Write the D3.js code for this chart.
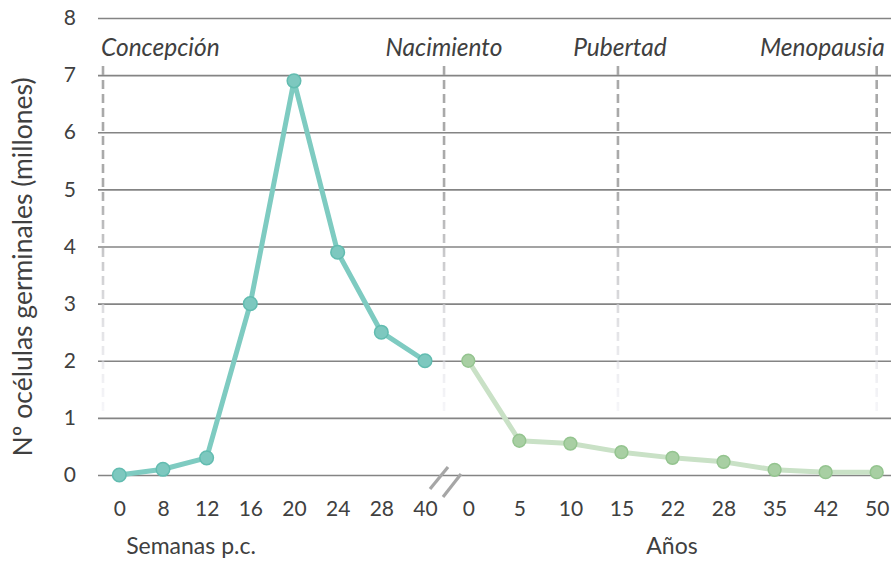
<!DOCTYPE html>
<html><head><meta charset="utf-8">
<script src="https://cdn.jsdelivr.net/npm/d3@7"></script>
<style>
html,body{margin:0;padding:0;background:#fff;}
svg text{font-family:Lato,"Open Sans",sans-serif;fill:#404040;}
</style></head>
<body><svg id="c" width="891" height="561"></svg>
<script>
const weeksLabels = ["0","8","12","16","20","24","28","40"];
const weeksValues = [0, 0.1, 0.3, 3.0, 6.9, 3.9, 2.5, 2.0];
const yearsLabels = ["0","5","10","15","22","28","35","42","50"];
const yearsValues = [2.0, 0.6, 0.55, 0.4, 0.3, 0.23, 0.09, 0.05, 0.05];
const yTicks = [0,1,2,3,4,5,6,7,8];
const milestones = [
  {name:"Concepción", part:"w", idx:0, anchor:"start"},
  {name:"Nacimiento", part:"b", idx:0, anchor:"middle"},
  {name:"Pubertad", part:"y", idx:3, anchor:"middle"},
  {name:"Menopausia", part:"y", idx:8, anchor:"end"}
];

const svg = d3.select("#c");
const y = d3.scaleLinear().domain([0,8]).range([475,18]);
const xw = d3.scalePoint().domain(weeksLabels.map((d,i)=>i)).range([119.3,425]);
const xy = d3.scalePoint().domain(yearsLabels.map((d,i)=>i)).range([468.3,876.7]);

const defs = svg.append("defs");
const g = defs.append("linearGradient").attr("id","fade").attr("gradientUnits","userSpaceOnUse")
  .attr("x1",0).attr("x2",0).attr("y1",66).attr("y2",412);
g.append("stop").attr("offset","0").attr("stop-color","#a8a8a8").attr("stop-opacity",1);
g.append("stop").attr("offset","0.35").attr("stop-color","#aaaaaa").attr("stop-opacity",1);
g.append("stop").attr("offset","1").attr("stop-color","#e8e8f0").attr("stop-opacity",0.4);

// gridlines
const yAxis = d3.axisLeft(y).tickValues(yTicks).tickSize(-(891-98)).tickPadding(22);
const ga = svg.append("g").attr("transform","translate(98,0)").call(yAxis);
ga.select(".domain").remove();
ga.selectAll(".tick line").attr("stroke","#848484").attr("stroke-width",1.6);
ga.selectAll(".tick text").attr("font-size",21).style("fill","#404040");

// milestone dashed lines
function mx(m){
  if(m.part==="w") return xw(m.idx) - 16.3;
  if(m.part==="b") return (xw(weeksLabels.length-1)+xy(0))/2 - 2.6;
  return xy(m.idx) + (m.idx===3 ? -3.5 : 0);
}
milestones.forEach(m=>{
  const x = mx(m);
  svg.append("line").attr("x1",x).attr("x2",x).attr("y1",66).attr("y2",412)
    .attr("stroke","url(#fade)").attr("stroke-width",2.6).attr("stroke-dasharray","9,5");
  let tx = x;
  if(m.anchor==="start") tx = x-2;
  if(m.anchor==="end") tx = x+8;
  if(m.idx===3 && m.part==="y") tx = x+2;
  svg.append("text").attr("x",tx).attr("y",56).attr("text-anchor",m.anchor)
    .attr("font-size",24.5).attr("font-style","italic").text(m.name);
});

// x tick labels
const xaw = d3.axisBottom(xw).tickFormat(i=>weeksLabels[i]).tickSize(0).tickPadding(26);
const gw = svg.append("g").attr("transform","translate(0,475)").call(xaw);
gw.select(".domain").remove();
gw.selectAll("text").attr("font-size",21).style("fill","#404040");
const xay = d3.axisBottom(xy).tickFormat(i=>yearsLabels[i]).tickSize(0).tickPadding(26);
const gy = svg.append("g").attr("transform","translate(0,475)").call(xay);
gy.select(".domain").remove();
gy.selectAll("text").attr("font-size",21).style("fill","#404040");

// axis break
[[430,489,448,467],[443,497,461,474]].forEach(p=>{
  svg.append("line").attr("x1",p[0]).attr("y1",p[1]).attr("x2",p[2]).attr("y2",p[3])
    .attr("stroke","#a6a6a6").attr("stroke-width",3.2);
});

// lines
const lw = d3.line().x((d,i)=>xw(i)).y(d=>y(d));
svg.append("path").datum(weeksValues).attr("d",lw).attr("fill","none")
  .attr("stroke","#7ecbc1").attr("stroke-width",5).attr("stroke-linejoin","round");
svg.selectAll(".pw").data(weeksValues).enter().append("circle")
  .attr("cx",(d,i)=>xw(i)).attr("cy",d=>y(d)).attr("r",6.8)
  .attr("fill","#7dc8bf").attr("stroke","#62bcb0").attr("stroke-width",1.5);

const ly = d3.line().x((d,i)=>xy(i)).y(d=>y(d));
svg.append("path").datum(yearsValues).attr("d",ly).attr("fill","none")
  .attr("stroke","#c9e1c6").attr("stroke-width",5).attr("stroke-linejoin","round");
svg.selectAll(".py").data(yearsValues).enter().append("circle")
  .attr("cx",(d,i)=>xy(i)).attr("cy",d=>y(d)).attr("r",6.4)
  .attr("fill","#a8cfa3").attr("stroke","#94c48f").attr("stroke-width",1.5);

// axis titles
svg.append("text").attr("x",191).attr("y",554).attr("text-anchor","middle").attr("font-size",23).text("Semanas p.c.");
svg.append("text").attr("x",672).attr("y",554).attr("text-anchor","middle").attr("font-size",23).text("Años");
svg.append("text").attr("transform","translate(32,267) rotate(-90)").attr("text-anchor","middle")
  .attr("font-size",26.5).text("Nº océlulas germinales (millones)");
</script></body></html>
